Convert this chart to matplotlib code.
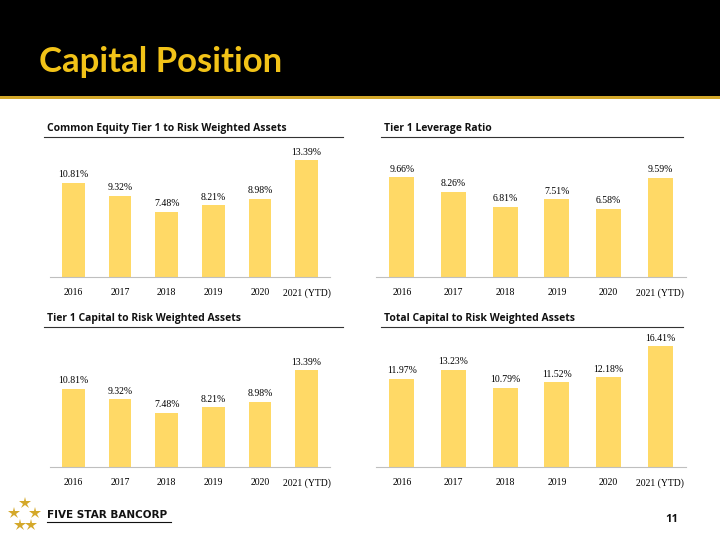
import matplotlib
matplotlib.use("Agg")
import matplotlib.pyplot as plt
from matplotlib.patches import Rectangle
from matplotlib.lines import Line2D

years = ["2016", "2017", "2018", "2019", "2020", "2021 (YTD)"]
cet1 = [10.81, 9.32, 7.48, 8.21, 8.98, 13.39]
leverage = [9.66, 8.26, 6.81, 7.51, 6.58, 9.59]
tier1 = [10.81, 9.32, 7.48, 8.21, 8.98, 13.39]
total_cap = [11.97, 13.23, 10.79, 11.52, 12.18, 16.41]

W, H = 720, 539
BAR = "#FFD966"
GOLD = "#F2C318"

fig = plt.figure(figsize=(W / 100, H / 100), dpi=100)
fig.patch.set_facecolor("white")


def px(x0, y0, x1, y1):
    return [x0 / W, 1 - y1 / H, (x1 - x0) / W, (y1 - y0) / H]


# header band
fig.patches.append(Rectangle((0, 1 - 99 / H), 1, 99 / H, transform=fig.transFigure,
                             facecolor="black", edgecolor="none"))
fig.patches.append(Rectangle((0, 1 - 99 / H), 1, 3 / H, transform=fig.transFigure,
                             facecolor="#D4A82A", edgecolor="none"))
fig.text(39 / W, 1 - 62 / H, "Capital Position", color=GOLD, fontsize=25,
         fontweight="bold", family="Lato", va="center")

panels = [
    ("Common Equity Tier 1 to Risk Weighted Assets", cet1, (44, 343, 128), (50, 330, 140, 277), 15.68),
    ("Tier 1 Leverage Ratio", leverage, (381, 683, 128), (376, 686, 140, 277), 13.24),
    ("Tier 1 Capital to Risk Weighted Assets", tier1, (44, 343, 318), (50, 330, 330, 467), 18.9),
    ("Total Capital to Risk Weighted Assets", total_cap, (381, 683, 318), (376, 686, 330, 467), 18.6),
]

for title, vals, (lx0, lx1, ty), (ax0, ax1, ay0, ay1), ymax in panels:
    fig.text((lx0 + 3) / W, 1 - ty / H, title, fontsize=7.5, fontweight="bold",
             family="Open Sans", va="center", color="#111111")
    fig.add_artist(Line2D([lx0 / W, lx1 / W], [1 - (ty + 9) / H] * 2,
                          transform=fig.transFigure, color="#333333", lw=0.8))
    ax = fig.add_axes(px(ax0, ay0, ax1, ay1))
    x = range(len(vals))
    ax.bar(x, vals, width=0.48, color=BAR)
    for xi, v in zip(x, vals):
        ax.text(xi, v + ymax * 0.025, f"{v:.2f}%", ha="center", va="bottom",
                fontsize=7, family="Liberation Serif")
    ax.set_xlim(-0.5, len(vals) - 0.5)
    ax.set_ylim(0, ymax)
    ax.set_xticks(list(x))
    ax.set_xticklabels(years, fontsize=7, family="Liberation Serif")
    ax.tick_params(axis="x", length=0, pad=8)
    ax.set_yticks([])
    for s in ["top", "right", "left"]:
        ax.spines[s].set_visible(False)
    ax.spines["bottom"].set_color("#BFBFBF")
    ax.patch.set_alpha(0)

# footer logo: five stars
star_x = [25, 14, 35, 20, 31]
star_y = [503, 513, 513, 525, 525]
fig.add_artist(Line2D([x / W for x in star_x], [1 - y / H for y in star_y],
                      transform=fig.transFigure, linestyle="none", marker="*",
                      markersize=9, color="#D4A82A", markeredgewidth=0))
fig.text(47 / W, 1 - 515 / H, "FIVE STAR BANCORP", fontsize=7.5, fontweight="bold",
         family="DejaVu Sans", va="center", color="#111111")
fig.add_artist(Line2D([47 / W, 171 / W], [1 - 522 / H] * 2,
                      transform=fig.transFigure, color="#111111", lw=0.8))
fig.text(672 / W, 1 - 520 / H, "11", fontsize=8, fontweight="bold",
         family="Open Sans", va="center", ha="center", color="#111111")

fig.savefig("out.png", dpi=100)
